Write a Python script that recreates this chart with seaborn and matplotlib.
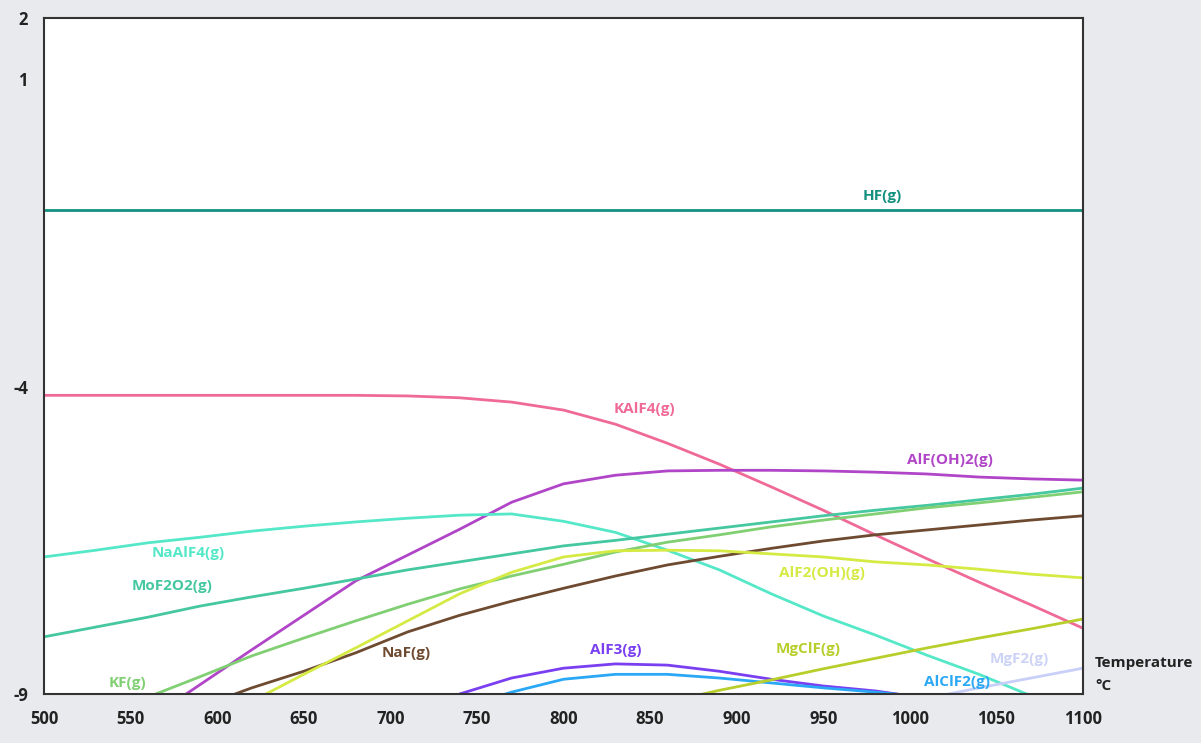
import numpy as np
import pandas as pd
import matplotlib
matplotlib.use("Agg")
import matplotlib.pyplot as plt
import seaborn as sns

# temperature grid (degC) and log values
temps = [500, 530, 560, 590, 620, 650, 680, 710, 740, 770, 800,
         830, 860, 890, 920, 950, 980, 1010, 1040, 1070, 1100]

hf = [-1.12, -1.12, -1.12, -1.12, -1.12, -1.12, -1.12, -1.12, -1.12, -1.12, -1.12,
      -1.12, -1.12, -1.12, -1.12, -1.12, -1.12, -1.12, -1.12, -1.12, -1.12]
kalf4 = [-4.14, -4.14, -4.14, -4.14, -4.14, -4.14, -4.14, -4.15, -4.18, -4.25, -4.38,
         -4.61, -4.92, -5.26, -5.63, -6.01, -6.41, -6.80, -7.18, -7.55, -7.93]
alfoh2 = [-10.56, -9.99, -9.42, -8.85, -8.28, -7.72, -7.16, -6.74, -6.32, -5.88, -5.58,
          -5.44, -5.37, -5.36, -5.36, -5.37, -5.39, -5.42, -5.47, -5.50, -5.52]
naalf4 = [-6.77, -6.66, -6.54, -6.45, -6.35, -6.27, -6.20, -6.14, -6.09, -6.07, -6.19,
          -6.37, -6.66, -6.98, -7.37, -7.73, -8.04, -8.37, -8.68, -9.03, -9.36]
mof2o2 = [-8.07, -7.91, -7.75, -7.57, -7.42, -7.28, -7.13, -6.98, -6.85, -6.72, -6.59,
          -6.50, -6.40, -6.30, -6.20, -6.10, -6.01, -5.93, -5.84, -5.75, -5.65]
kf = [-9.75, -9.39, -9.05, -8.72, -8.38, -8.09, -7.81, -7.54, -7.29, -7.08, -6.89,
      -6.69, -6.53, -6.41, -6.28, -6.17, -6.07, -5.97, -5.89, -5.80, -5.71]
naf = [-10.09, -9.80, -9.51, -9.21, -8.90, -8.63, -8.33, -7.99, -7.72, -7.49, -7.28,
       -7.08, -6.90, -6.76, -6.63, -6.51, -6.41, -6.33, -6.25, -6.17, -6.10]
alf2oh = [-10.87, -10.43, -9.99, -9.55, -9.12, -8.68, -8.25, -7.81, -7.37, -7.02, -6.77,
          -6.67, -6.66, -6.67, -6.72, -6.77, -6.85, -6.90, -6.97, -7.05, -7.11]
alf3 = [None, None, None, None, None, None, None, -9.29, -9.00, -8.74, -8.58,
        -8.51, -8.53, -8.63, -8.76, -8.87, -8.95, -9.07, -9.18, None, None]
alclf2 = [None, None, None, None, None, None, None, None, -9.23, -8.97, -8.76,
          -8.68, -8.68, -8.74, -8.82, -8.90, -8.97, -9.05, -9.12, None, None]
mgclf = [None, None, None, None, None, None, None, None, None, None, None,
         None, -9.13, -8.94, -8.77, -8.59, -8.42, -8.25, -8.09, -7.94, -7.78]
mgf2 = [None, None, None, None, None, None, None, None, None, None, None,
        None, None, None, None, -9.41, -9.25, -9.07, -8.90, -8.74, -8.58]

species = {
    "HF(g)": hf, "KAlF4(g)": kalf4, "AlF(OH)2(g)": alfoh2, "NaAlF4(g)": naalf4,
    "MoF2O2(g)": mof2o2, "KF(g)": kf, "NaF(g)": naf, "AlF2(OH)(g)": alf2oh,
    "AlF3(g)": alf3, "AlClF2(g)": alclf2, "MgClF(g)": mgclf, "MgF2(g)": mgf2,
}

colors = {
    "HF(g)": "#14907E", "KAlF4(g)": "#F06A98", "AlF(OH)2(g)": "#B045C8",
    "NaAlF4(g)": "#55E8C8", "MoF2O2(g)": "#45C7A0", "KF(g)": "#80CF72",
    "NaF(g)": "#6E4A30", "AlF2(OH)(g)": "#D6EA44", "AlF3(g)": "#7A3FF0",
    "AlClF2(g)": "#2AA8F5", "MgClF(g)": "#B8CE2A", "MgF2(g)": "#C8CFF8",
}

# label anchor (temperature, value)
label_pos = {
    "HF(g)": (984, -0.90), "KAlF4(g)": (847, -4.36), "AlF(OH)2(g)": (1023, -5.19),
    "NaAlF4(g)": (583, -6.71), "MoF2O2(g)": (574, -7.24), "KF(g)": (548, -8.82),
    "NaF(g)": (709, -8.33), "AlF2(OH)(g)": (949, -7.03), "AlF3(g)": (830, -8.29),
    "AlClF2(g)": (1027, -8.81), "MgClF(g)": (941, -8.27), "MgF2(g)": (1063, -8.43),
}

rows = []
for name, vals in species.items():
    for t, v in zip(temps, vals):
        if v is not None:
            rows.append({"T": t, "value": v, "species": name})
df = pd.DataFrame(rows)

sns.set_style("white")
plt.rcParams["font.family"] = ["Open Sans", "DejaVu Sans"]
plt.rcParams["axes.unicode_minus"] = False

fig = plt.figure(figsize=(12.01, 7.43), dpi=100, facecolor="#E9EAEE")
ax = fig.add_axes([44 / 1201, 1 - 694 / 743, (1083 - 44) / 1201, (694 - 18) / 743])
ax.set_facecolor("white")

sns.lineplot(data=df, x="T", y="value", hue="species", palette=colors,
             hue_order=list(species.keys()), estimator=None, sort=False,
             linewidth=2.0, legend=False, ax=ax)

for name, (tx, ty) in label_pos.items():
    c = "#CDD3F6" if name == "MgF2(g)" else colors[name]
    ax.text(tx, ty, name, color=c, fontsize=11, fontweight="bold",
            ha="center", va="center")

ax.set_xlim(500, 1100)
ax.set_ylim(-9, 2)
ax.set_xticks(list(range(500, 1101, 50)))
ax.set_yticks([2, 1, -4, -9])
ax.set_xlabel("")
ax.set_ylabel("")
for s in ax.spines.values():
    s.set_visible(True)
    s.set_color("#333333")
    s.set_linewidth(1.5)
ax.tick_params(axis="both", direction="out", length=8, width=1.5,
               color="#333333", labelsize=12, labelcolor="#222222")
for lab in ax.get_xticklabels() + ax.get_yticklabels():
    lab.set_fontweight("bold")

fig.text(1095 / 1201, 1 - 663 / 743, "Temperature", fontsize=11,
         fontweight="bold", color="#222222", ha="left", va="center")
fig.text(1095 / 1201, 1 - 686 / 743, "°C", fontsize=11,
         fontweight="bold", color="#222222", ha="left", va="center")

fig.savefig("out.png", dpi=100, facecolor=fig.get_facecolor())
